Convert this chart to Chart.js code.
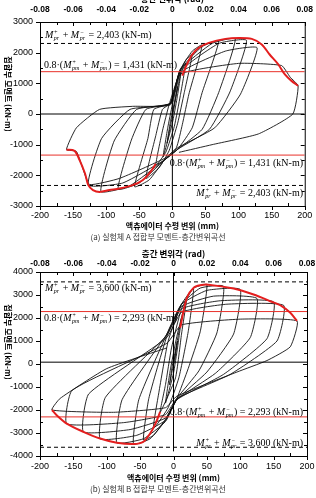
<!DOCTYPE html>
<html>
<head>
<meta charset="utf-8">
<script src="https://cdn.jsdelivr.net/npm/chart.js@4.4.1/dist/chart.umd.min.js"></script>
<style>
  html, body { margin: 0; padding: 0; background: #fff; }
  body { width: 316px; height: 498px; position: relative; overflow: hidden; }
  canvas { position: absolute; left: 0; }
  #chartA { top: -8px; }
  #chartB { top: 242px; }
  .note { position: absolute; font-family: 'Liberation Serif', 'Times New Roman', serif; font-size: 10px; white-space: nowrap; transform: translateY(-50%); color: #000; }
  .ss { display: inline-flex; flex-direction: column; vertical-align: 4px; font-size: 6px; line-height: 6px; margin: 0 1px 0 0.5px; font-style: italic; }
  .ylab { position: absolute; font-family: 'Noto Sans CJK KR', sans-serif; font-weight: bold; font-size: 8px; white-space: nowrap; transform: translate(-50%, -50%) rotate(90deg); }
  .cap { position: absolute; left: 0; width: 316px; text-align: center; font-family: 'Noto Sans CJK KR', sans-serif; font-size: 8px; line-height: 10px; color: #333; }
</style>
</head>
<body>
<canvas id="chartA" width="316" height="242"></canvas>
<canvas id="chartB" width="316" height="242"></canvas>

<!-- 축 제목 (세로) -->
<div class="ylab" style="left:8px; top:94px;">접합부 모멘트 (kN-m)</div>
<div class="ylab" style="left:8px; top:342px;">접합부 모멘트 (kN-m)</div>

<!-- 실험체 A 주석 -->
<div class="note" style="left:45px; top:35px;"><i>M</i><span class="ss"><span>+</span><span>pr</span></span> + <i>M</i><span class="ss"><span>−</span><span>pr</span></span> = 2,403 (kN-m)</div>
<div class="note" style="left:44px; top:65px;">0.8·(<i>M</i><span class="ss"><span>+</span><span>pm</span></span> + <i>M</i><span class="ss"><span>−</span><span>pm</span></span>) = 1,431 (kN-m)</div>
<div class="note" style="right:13px; top:163px;">0.8·(<i>M</i><span class="ss"><span>+</span><span>pm</span></span> + <i>M</i><span class="ss"><span>−</span><span>pm</span></span>) = 1,431 (kN-m)</div>
<div class="note" style="right:13px; top:193px;"><i>M</i><span class="ss"><span>+</span><span>pr</span></span> + <i>M</i><span class="ss"><span>−</span><span>pr</span></span> = 2,403 (kN-m)</div>
<div class="cap" style="top:232px;">(a) 실험체 A 접합부 모멘트-층간변위곡선</div>

<!-- 실험체 B 주석 -->
<div class="note" style="left:45px; top:288px;"><i>M</i><span class="ss"><span>+</span><span>pr</span></span> + <i>M</i><span class="ss"><span>−</span><span>pr</span></span> = 3,600 (kN-m)</div>
<div class="note" style="left:44px; top:318px;">0.8·(<i>M</i><span class="ss"><span>+</span><span>pm</span></span> + <i>M</i><span class="ss"><span>−</span><span>pm</span></span>) = 2,293 (kN-m)</div>
<div class="note" style="right:13px; top:412px;">0.8·(<i>M</i><span class="ss"><span>+</span><span>pm</span></span> + <i>M</i><span class="ss"><span>−</span><span>pm</span></span>) = 2,293 (kN-m)</div>
<div class="note" style="right:13px; top:443px;"><i>M</i><span class="ss"><span>+</span><span>pr</span></span> + <i>M</i><span class="ss"><span>−</span><span>pr</span></span> = 3,600 (kN-m)</div>
<div class="cap" style="top:484px;">(b) 실험체 B 접합부 모멘트-층간변위곡선</div>

<script>
// 축 눈금
const dispTicks = [-200, -150, -100, -50, 0, 50, 100, 150, 200];
const driftTicks = [-0.08, -0.06, -0.04, -0.02, 0, 0.02, 0.04, 0.06, 0.08];
const momentTicksA = [-3000, -2000, -1000, 0, 1000, 2000, 3000];
const momentTicksB = [-4000, -3000, -2000, -1000, 0, 1000, 2000, 3000, 4000];

// 실험체 A 이력곡선 [변위(mm), 모멘트(kN-m)]
const hystA = [
  [0, 0], [8, 900], [3, 250], [-3, -400], [-8, -950], [-3, -250],
  [3, 350], [13, 1350], [7, 500], [0, -300], [-14, -1400], [-7, -450],
  [0, 300], [10, 1200], [20, 1650], [12, 600], [3, -400], [-10, -1250], [-25, -1670],
  [-15, -550], [-5, 300], [10, 1300], [20, 1750], [30, 1950], [18, 700], [8, -300], [-5, -1200], [-20, -1750], [-40, -2100],
  [-25, -700], [-15, 150], [-3, 350], [12, 1450], [30, 2050], [45, 2250], [25, 650], [15, -350], [6, -1100], [-12, -1500], [-35, -2150], [-57, -2370],
  [-37, -800], [-28, 150], [-3, 350], [12, 1450], [45, 2200], [70, 2380], [45, 700], [30, -450], [8, -1150], [-12, -1500], [-50, -2250], [-82, -2450],
  [-62, -850], [-40, 150], [-3, 350], [12, 1450], [60, 2300], [95, 2450], [70, 700], [45, -500], [8, -1150], [-12, -1500], [-65, -2350], [-108, -2530],
  [-88, -880], [-54, 150], [-3, 350], [12, 1400], [70, 2300], [112, 2400], [87, 720], [56, -500], [8, -1150], [-12, -1500], [-75, -2250], [-127, -2320],
  [-107, -800], [-64, 150], [-3, 330], [12, 1350], [80, 2050], [128, 2160], [103, 650], [64, -450], [8, -1100], [-12, -1450], [-80, -2100], [-125, -2300], [-135, -1800], [-145, -1220], [-160, -1160],
  [-145, -450], [-110, 150], [-60, 250], [-3, 300], [12, 1300], [100, 1650], [165, 1580], [178, 1200], [190, 920], [182, 0], [130, -650], [60, -1000], [10, -1250]
];
const envPosA = [[15, 1250], [22, 1620], [30, 1940], [40, 2160], [55, 2320], [80, 2450], [100, 2480], [120, 2450], [135, 2270], [147, 1940], [160, 1620], [170, 1290], [180, 1080], [190, 920]];
const envNegA = [[-160, -1165], [-148, -1200], [-140, -1510], [-132, -1940], [-127, -2320], [-120, -2480], [-110, -2540], [-95, -2480], [-80, -2430], [-60, -2320], [-45, -2160], [-33, -1890], [-25, -1620]];
const dashA = [2300, -2330];
const redA = [1380, -1340];
const zeroA = 0;
const vLineA = [-3000, 3000];

// 실험체 B 이력곡선
const hystB = [
  [0, 0], [6, 1000], [2, 200], [-2, -300], [-6, -900], [-2, -100],
  [3, 600], [12, 2000], [6, 700], [0, -400], [-12, -1700], [-5, -300],
  [5, 1200], [20, 2900], [12, 1300], [3, -600], [-20, -2100],
  [-12, -900], [-3, 700], [12, 2400], [30, 3300], [22, 1400], [8, -600], [-8, -1900], [-30, -2800],
  [-22, -1250], [-8, 1000], [12, 2600], [30, 3300], [50, 3450], [40, 1400], [22, -200], [5, -1500], [-12, -2400], [-30, -3100], [-45, -3300],
  [-37, -1500], [-10, 1200], [12, 2600], [40, 3300], [75, 3380], [65, 1350], [38, -300], [5, -1500], [-12, -2450], [-35, -3250], [-60, -3480],
  [-52, -1550], [-10, 1300], [12, 2600], [50, 3200], [100, 3240], [90, 1300], [50, -350], [5, -1550], [-12, -2500], [-45, -3250], [-85, -3420],
  [-77, -1550], [-10, 1300], [12, 2500], [60, 2950], [125, 2850], [115, 1150], [63, -400], [5, -1550], [-12, -2450], [-55, -3100], [-110, -3250],
  [-102, -1450], [-10, 1250], [12, 2400], [70, 2750], [150, 2700], [140, 1100], [75, -450], [5, -1550], [-12, -2350], [-65, -2850], [-135, -2950],
  [-127, -1300], [-10, 1150], [12, 2250], [80, 2600], [165, 2550], [155, 1000], [85, -450], [5, -1500], [-12, -2200], [-75, -2550], [-160, -2600],
  [-152, -1150], [-10, 900], [12, 1700], [100, 1950], [185, 1870], [175, 750], [140, 150], [95, -350], [5, -1400], [-12, -1900], [-90, -2100], [-182, -2000],
  [-170, -1500], [-100, -200], [-10, 700]
];
const envPosB = [[10, 1580], [20, 2880], [30, 3310], [40, 3420], [52, 3450], [90, 3280], [120, 3020], [145, 2730], [162, 2520], [175, 2230], [185, 1870]];
const envNegB = [[-182, -2000], [-175, -2230], [-160, -2590], [-135, -2950], [-110, -3240], [-85, -3420], [-60, -3480], [-45, -3380], [-35, -3020], [-27, -2590], [-20, -2080]];
const dashB = [3570, -3620];
const redB = [2280, -2300];
const zeroB = 80;
const vLineB = [-3800, 4000];

const KR = "'Noto Sans CJK KR', sans-serif";
const NUM = "'Liberation Sans Narrow', 'Liberation Sans', Arial, sans-serif";
Chart.defaults.font.family = NUM;
Chart.defaults.color = '#000';

function toXY(aPairs) {
  return aPairs.map(p => ({ x: p[0], y: p[1] }));
}

function hLine(v, sColor, aDash) {
  return {
    data: [{ x: -200, y: v }, { x: 200, y: v }],
    borderColor: sColor, borderWidth: 1, borderDash: aDash || [],
    pointRadius: 0, showLine: true, order: 1
  };
}

// 외곽 프레임 + 안쪽/바깥쪽 눈금
const framePlugin = {
  id: 'frame',
  afterDraw(chart) {
    const { ctx, chartArea: a, scales } = chart;
    const xs = scales.x, ys = scales.y;
    ctx.save();
    ctx.strokeStyle = '#000';
    ctx.lineWidth = 1;
    ctx.strokeRect(a.left + 0.5, a.top + 0.5, a.right - a.left, a.bottom - a.top);
    ctx.beginPath();
    for (let v = xs.min; v <= xs.max; v += 25) {
      const px = Math.round(xs.getPixelForValue(v)) + 0.5;
      const bMajor = v % 50 === 0;
      if (bMajor) {
        ctx.moveTo(px, a.bottom); ctx.lineTo(px, a.bottom + 4);
        ctx.moveTo(px, a.top); ctx.lineTo(px, a.top + 4);
      } else {
        ctx.moveTo(px, a.bottom); ctx.lineTo(px, a.bottom - 3);
        ctx.moveTo(px, a.top); ctx.lineTo(px, a.top + 3);
      }
    }
    for (let v = ys.min; v <= ys.max; v += 500) {
      const py = Math.round(ys.getPixelForValue(v)) + 0.5;
      const bMajor = v % 1000 === 0;
      if (bMajor) {
        ctx.moveTo(a.left - 4, py); ctx.lineTo(a.left, py);
        ctx.moveTo(a.right, py); ctx.lineTo(a.right - 4, py);
      } else {
        ctx.moveTo(a.left, py); ctx.lineTo(a.left + 3, py);
        ctx.moveTo(a.right, py); ctx.lineTo(a.right - 3, py);
      }
    }
    ctx.stroke();
    ctx.restore();
  }
};

function makeChart(sId, o) {
  const ctx = document.getElementById(sId).getContext('2d');
  const datasets = [
    { data: toXY(o.hyst), borderColor: '#111', borderWidth: 0.9, pointRadius: 0, showLine: true, tension: 0.15, order: 3 },
    ...o.dash.map(v => hLine(v, '#000', [4, 3])),
    ...o.red.map(v => hLine(v, '#e8312a')),
    hLine(o.zero, '#000'),
    { data: [{ x: 0, y: o.vLine[0] }, { x: 0, y: o.vLine[1] }], borderColor: '#000', borderWidth: 1, pointRadius: 0, showLine: true, order: 1 },
    { data: toXY(o.envPos), borderColor: '#e41e1e', borderWidth: 2, pointRadius: 0, showLine: true, tension: 0.3, order: 0 },
    { data: toXY(o.envNeg), borderColor: '#e41e1e', borderWidth: 2, pointRadius: 0, showLine: true, tension: 0.3, order: 0 }
  ];

  return new Chart(ctx, {
    type: 'scatter',
    data: { datasets: datasets },
    options: {
      responsive: false,
      animation: false,
      devicePixelRatio: 1,
      layout: { padding: { right: 9 } },
      plugins: { legend: { display: false }, tooltip: { enabled: false } },
      scales: {
        x: {
          type: 'linear', position: 'bottom', min: -200, max: 200,
          afterBuildTicks: s => { s.ticks = dispTicks.map(v => ({ value: v })); },
          afterFit: s => { s.height = 28; },
          ticks: { font: { size: 9 }, padding: o.xTickPad, autoSkip: false, maxRotation: 0, callback: v => String(v) },
          grid: { drawOnChartArea: false, color: 'transparent', tickLength: 4 },
          border: { display: false },
          title: { display: true, text: '액츄에이터 수평 변위 (mm)', font: { family: KR, size: 8, weight: 'bold' }, padding: { top: 0, bottom: o.xTitlePad } }
        },
        x2: {
          type: 'linear', position: 'top', min: -0.08, max: 0.08,
          afterBuildTicks: s => { s.ticks = driftTicks.map(v => ({ value: v })); },
          afterFit: s => { s.height = 30; },
          ticks: { font: { size: 8.5, weight: 'bold' }, padding: o.topTickPad, autoSkip: false, maxRotation: 0,
                   callback: v => Math.abs(v) < 1e-9 ? '0' : v.toFixed(2) },
          grid: { drawOnChartArea: false, color: 'transparent', tickLength: o.topTickLen },
          border: { display: false },
          title: { display: true, text: '층간 변위각 (rad)', font: { family: KR, size: 8.5, weight: 'bold' }, padding: { top: o.topTitlePad, bottom: 0 } }
        },
        y: {
          type: 'linear', min: o.yTicks[0], max: o.yTicks[o.yTicks.length - 1],
          afterBuildTicks: s => { s.ticks = o.yTicks.map(v => ({ value: v })); },
          afterFit: s => { s.width = 40; },
          ticks: { font: { size: 9 }, padding: 3, autoSkip: false, callback: v => String(v) },
          grid: { drawOnChartArea: false, color: 'transparent', tickLength: 4 },
          border: { display: false }
        }
      }
    },
    plugins: [framePlugin]
  });
}

makeChart('chartA', {
  hyst: hystA, envPos: envPosA, envNeg: envNegA, dash: dashA, red: redA, zero: zeroA, vLine: vLineA,
  yTicks: momentTicksA, xTickPad: 0, xTitlePad: 3, topTickPad: 3, topTickLen: 4, topTitlePad: 2
});
makeChart('chartB', {
  hyst: hystB, envPos: envPosB, envNeg: envNegB, dash: dashB, red: redB, zero: zeroB, vLine: vLineB,
  yTicks: momentTicksB, xTickPad: 1, xTitlePad: 1, topTickPad: 0, topTickLen: 3, topTitlePad: 7
});
</script>
</body>
</html>
